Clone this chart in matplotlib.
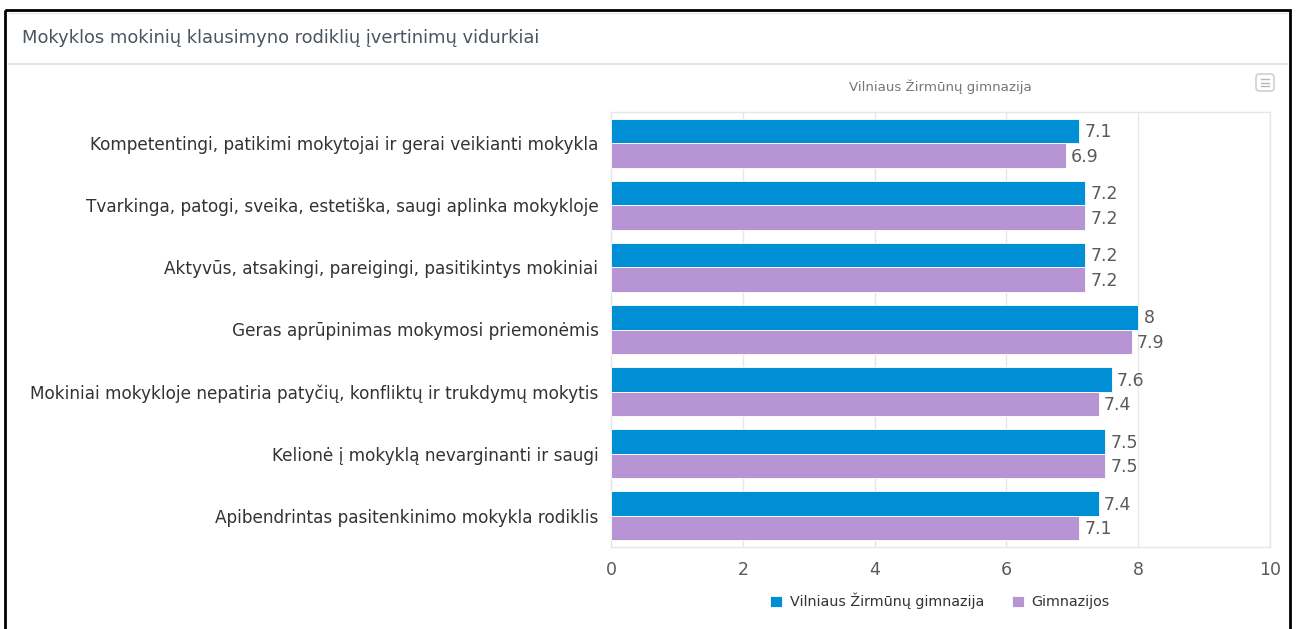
import numpy as np
import matplotlib
matplotlib.use('Agg')
from matplotlib import pyplot as plt
from matplotlib.patches import Rectangle, FancyBboxPatch

plt.rcParams['font.family'] = ['DejaVu Sans']

title = 'Mokyklos mokinių klausimyno rodiklių įvertinimų vidurkiai'
subtitle = 'Vilniaus Žirmūnų gimnazija'
categories = [
    'Kompetentingi, patikimi mokytojai ir gerai veikianti mokykla',
    'Tvarkinga, patogi, sveika, estetiška, saugi aplinka mokykloje',
    'Aktyvūs, atsakingi, pareigingi, pasitikintys mokiniai',
    'Geras aprūpinimas mokymosi priemonėmis',
    'Mokiniai mokykloje nepatiria patyčių, konfliktų ir trukdymų mokytis',
    'Kelionė į mokyklą nevarginanti ir saugi',
    'Apibendrintas pasitenkinimo mokykla rodiklis',
]
series_names = ['Vilniaus Žirmūnų gimnazija', 'Gimnazijos']
school = [7.1, 7.2, 7.2, 8.0, 7.6, 7.5, 7.4]
all_gym = [6.9, 7.2, 7.2, 7.9, 7.4, 7.5, 7.1]
xticks = [0, 2, 4, 6, 8, 10]

blue = '#008fd5'
purple = '#b795d5'
txt = '#5a5a5a'

W, H = 1299, 629
fig = plt.figure(figsize=(W / 100, H / 100), dpi=100)
fig.patch.set_facecolor('white')

# panel decoration in pixel coords
deco = fig.add_axes([0, 0, 1, 1])
deco.set_xlim(0, W)
deco.set_ylim(H, 0)
deco.axis('off')
deco.add_patch(Rectangle((5, 10), 1285, 640, fill=False, ec='black', lw=2))
deco.plot([9, 1287], [64, 64], color='#dddddd', lw=1.2)
deco.plot([9, 1287], [13, 13], color='#e8e8e8', lw=1)
deco.text(22, 38, title, fontsize=12.9, color='#4a5560', va='center', ha='left')
deco.text(940, 87, subtitle, fontsize=9.6, color='#777777', va='center', ha='center')
deco.add_patch(FancyBboxPatch((1256, 74), 18, 17, boxstyle='round,pad=0,rounding_size=3',
                              fill=False, ec='#c8c8c8', lw=1))
for yy in (79, 82.5, 86):
    deco.plot([1261, 1269], [yy, yy], color='#b8b8b8', lw=1)

ax = fig.add_axes([611 / W, 1 - 547 / H, (1270 - 611) / W, (547 - 112) / H])
y = np.arange(len(categories))
h = 0.395
b1 = ax.barh(y - h / 2, school, height=h, color=blue, edgecolor='white', linewidth=0.6, zorder=3)
b2 = ax.barh(y + h / 2, all_gym, height=h, color=purple, edgecolor='white', linewidth=0.6, zorder=3)
for bars, vals in ((b1, school), (b2, all_gym)):
    for r, v in zip(bars, vals):
        ax.text(v + 0.08, r.get_y() + r.get_height() / 2 + 0.02, f'{v:g}', fontsize=12.5,
                color=txt, va='center', ha='left', zorder=4)

ax.set_ylim(len(categories) - 0.5, -0.5)
ax.set_xlim(0, 10)
ax.set_xticks(xticks)
ax.set_xticklabels([str(t) for t in xticks])
ax.set_yticks(y)
ax.set_yticklabels(categories)
ax.tick_params(axis='y', length=0, pad=9, labelsize=12.2, labelcolor='#333333')
ax.tick_params(axis='x', length=0, pad=10, labelsize=12.5, labelcolor=txt)
ax.grid(axis='x', color='#e6e6e6', lw=1, zorder=0)
for s in ax.spines.values():
    s.set_color('#e6e6e6')
    s.set_linewidth(1)

leg = fig.legend([b1, b2], series_names, loc='center', bbox_to_anchor=(940 / W, 1 - 601 / H),
                 ncol=2, frameon=False, fontsize=10.3, handlelength=0.85, handleheight=0.85,
                 handletextpad=0.55, columnspacing=1.9)
for t in leg.get_texts():
    t.set_color('#333333')

fig.savefig('out.png', dpi=100)
